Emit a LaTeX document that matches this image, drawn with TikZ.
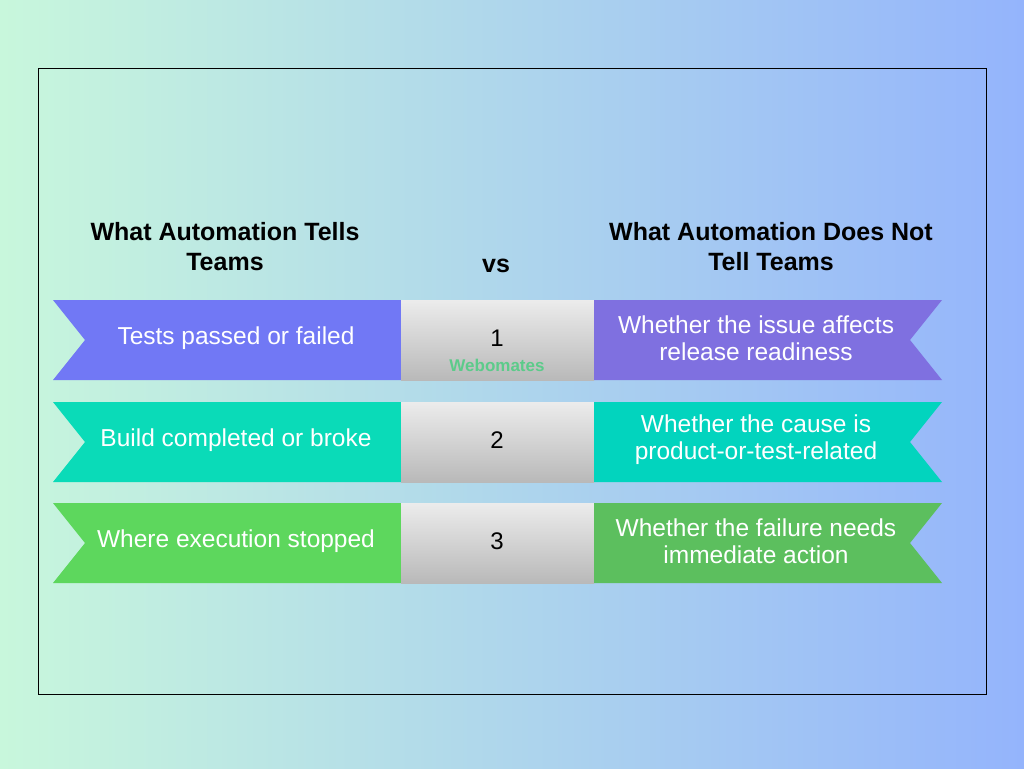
\documentclass[tikz,border=0pt]{standalone}
\usepackage{fontspec}
\setmainfont{Liberation Sans}
\usetikzlibrary{positioning}
\definecolor{bgleft}{HTML}{C8F7DC}
\definecolor{bgright}{HTML}{94B4FC}
\definecolor{blueL}{HTML}{7178F5}
\definecolor{blueR}{HTML}{7F70E0}
\definecolor{tealL}{HTML}{0ADBB8}
\definecolor{tealR}{HTML}{02D4BE}
\definecolor{greenL}{HTML}{5DD75D}
\definecolor{greenR}{HTML}{5CBF5E}
\definecolor{wmgreen}{HTML}{5CCB8A}
\begin{document}
\begin{tikzpicture}[x=1pt, y=-1pt,
  head/.style={font=\bfseries\fontsize{25}{30}\selectfont, align=center},
  item/.style={text=white, font=\fontsize{24.5}{27}\selectfont, align=center},
  num/.style={font=\fontsize{24}{28}\selectfont}]
 % background and frame
 \shade[left color=bgleft, right color=bgright] (0,0) rectangle (1024,768);
 \useasboundingbox (0,0) rectangle (1024,768);
 \draw[black, line width=0.6pt] (38,68) rectangle (986,694);

 % headings
 \node[head] (hl) at (225,247) {What Automation Tells\\Teams};
 \node[head] (vs) at (496,266) {vs};
 \node[head] (hr) at (771,247) {What Automation Does Not\\Tell Teams};

 % rows
 \foreach \ytop/\colL/\colR/\n/\txtL/\txtR in {
   300/blueL/blueR/1/{Tests passed or failed}/{Whether the issue affects\\release readiness},
   402/tealL/tealR/2/{Build completed or broke}/{Whether the cause is\\product-or-test-related},
   503/greenL/greenR/3/{Where execution stopped}/{Whether the failure needs\\immediate action}} {
   \pgfmathsetmacro\ybot{\ytop+80}
   \pgfmathsetmacro\ymid{\ytop+40}
   \fill[\colL] (53,\ytop) -- (401,\ytop) -- (401,\ybot) -- (53,\ybot) -- (85,\ymid) -- cycle;
   \shade[top color=gray!15, bottom color=gray!55] (401,\ytop) rectangle (594,\ybot);
   \fill[\colR] (594,\ytop) -- (942,\ytop) -- (910,\ymid) -- (942,\ybot) -- (594,\ybot) -- cycle;
   \node[item] (left\n) at (236,\ymid-2) {\txtL};
   \node[num] (num\n) at (497,\ymid-2) {\n};
   \node[item] (right\n) at (756,\ymid-2) {\txtR};
 }
 \node[text=wmgreen, font=\bfseries\fontsize{17}{19}\selectfont, below=6pt of num1] (wm) {Webomates};
\end{tikzpicture}
\end{document}
